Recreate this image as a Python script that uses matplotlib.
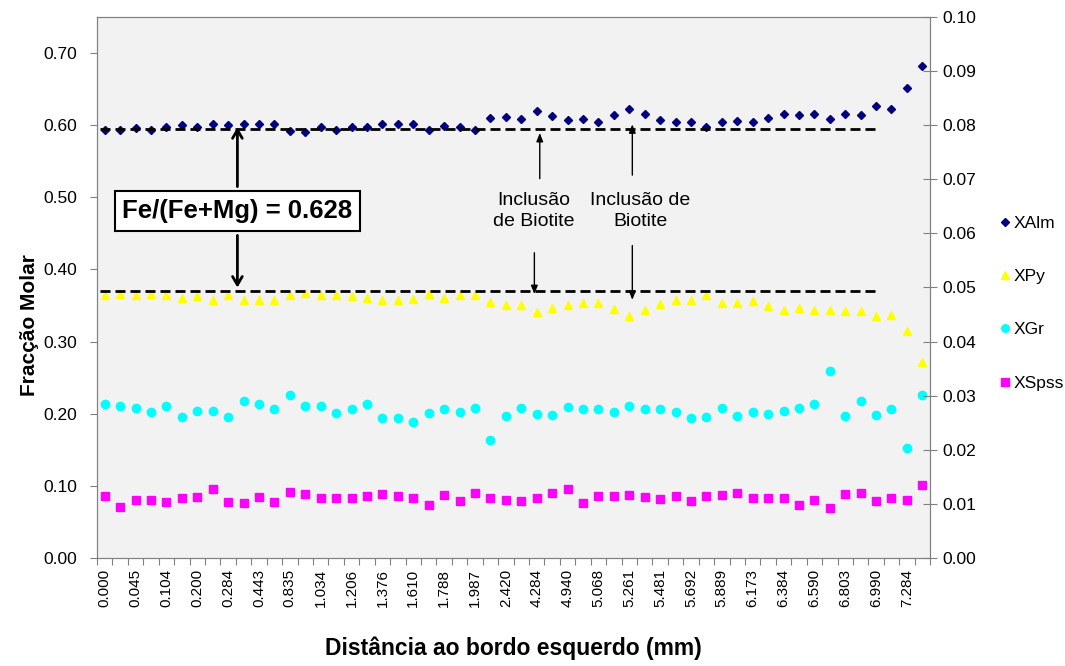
import matplotlib.pyplot as plt
import numpy as np

# distancias (mm) - so as posicoes pares tem rotulo no eixo
dist_labels = ["0.000", "0.045", "0.104", "0.200", "0.284", "0.443", "0.835",
               "1.034", "1.206", "1.376", "1.610", "1.788", "1.987", "2.420",
               "4.284", "4.940", "5.068", "5.261", "5.481", "5.692", "5.889",
               "6.173", "6.384", "6.590", "6.803", "6.990", "7.284"]

xalm = [0.594, 0.594, 0.596, 0.593, 0.597, 0.600, 0.598, 0.602, 0.600, 0.601,
        0.601, 0.602, 0.592, 0.590, 0.597, 0.594, 0.598, 0.598, 0.602, 0.601,
        0.602, 0.594, 0.599, 0.597, 0.593, 0.610, 0.611, 0.609, 0.619, 0.613,
        0.607, 0.608, 0.604, 0.614, 0.623, 0.615, 0.607, 0.604, 0.605, 0.597,
        0.604, 0.606, 0.604, 0.610, 0.615, 0.614, 0.615, 0.609, 0.616, 0.614,
        0.626, 0.623, 0.651, 0.682]
xpy = [0.365, 0.366, 0.364, 0.366, 0.364, 0.360, 0.363, 0.357, 0.364, 0.358,
       0.357, 0.358, 0.364, 0.367, 0.364, 0.365, 0.363, 0.360, 0.358, 0.358,
       0.359, 0.366, 0.360, 0.364, 0.365, 0.355, 0.351, 0.351, 0.341, 0.346,
       0.351, 0.353, 0.354, 0.345, 0.336, 0.344, 0.352, 0.357, 0.357, 0.364,
       0.354, 0.353, 0.356, 0.350, 0.344, 0.346, 0.344, 0.344, 0.343, 0.343,
       0.336, 0.337, 0.315, 0.271]
xgr = [0.213, 0.211, 0.208, 0.203, 0.211, 0.195, 0.204, 0.204, 0.195, 0.217,
       0.214, 0.206, 0.226, 0.211, 0.211, 0.201, 0.207, 0.213, 0.194, 0.194,
       0.188, 0.201, 0.207, 0.203, 0.208, 0.163, 0.197, 0.208, 0.200, 0.198,
       0.209, 0.207, 0.207, 0.202, 0.211, 0.207, 0.207, 0.202, 0.194, 0.195,
       0.208, 0.197, 0.203, 0.199, 0.204, 0.208, 0.213, 0.259, 0.197, 0.218,
       0.198, 0.206, 0.152, 0.226]
xspss = [0.086, 0.070, 0.081, 0.081, 0.078, 0.083, 0.085, 0.095, 0.078, 0.076,
         0.084, 0.077, 0.091, 0.089, 0.083, 0.083, 0.083, 0.086, 0.089, 0.086,
         0.083, 0.073, 0.087, 0.079, 0.090, 0.083, 0.080, 0.079, 0.083, 0.090,
         0.095, 0.076, 0.086, 0.086, 0.087, 0.085, 0.082, 0.086, 0.079, 0.086,
         0.087, 0.090, 0.083, 0.083, 0.083, 0.073, 0.081, 0.069, 0.088, 0.090,
         0.079, 0.083, 0.081, 0.101]

nivel_alm = 0.595   # Fe/(Fe+Mg) - linha tracejada superior
nivel_py = 0.370    # linha tracejada inferior

plt.rcParams['font.family'] = ['Liberation Sans', 'DejaVu Sans']

fig = plt.figure(figsize=(10.65, 6.66), dpi=100)
ax = fig.add_axes([0.0911, 0.1622, 0.7822, 0.8123])
ax.set_facecolor('#F2F2F2')

n = len(xalm)
x = np.arange(n)

l1, = ax.plot(x, xalm, linestyle='none', marker='D', ms=4.3, color='#000080')
l2, = ax.plot(x, xpy, linestyle='none', marker='^', ms=6.2, color='#FFFF00')
l3, = ax.plot(x, xgr, linestyle='none', marker='o', ms=6, color='#00FFFF')
l4, = ax.plot(x, xspss, linestyle='none', marker='s', ms=6, color='#FF00FF')

ax.hlines([nivel_alm, nivel_py], -0.3, 50, colors='black', lw=2,
          linestyles=[(0, (3.6, 1.8))])

ax.set_xlim(-0.5, n - 0.5)
ax.set_ylim(0, 0.75)
ax.set_yticks(np.arange(0, 0.71, 0.1))
ax.set_yticklabels([f"{v:.2f}" for v in np.arange(0, 0.71, 0.1)], fontsize=12.5)
ax.tick_params(axis='y', direction='out', length=5, color='#808080', pad=9)

# ticks entre categorias, rotulos nas posicoes pares
ax.set_xticks(np.arange(-0.5, n, 1.0))
ax.set_xticklabels([])
ax.tick_params(axis='x', which='major', direction='out', length=5, color='#808080')
ax.set_xticks(np.arange(0, n, 2)[:len(dist_labels)], minor=True)
ax.set_xticklabels(dist_labels, minor=True, rotation=90, fontsize=11)
ax.tick_params(axis='x', which='minor', length=0, pad=8)

for s in ax.spines.values():
    s.set_color('#808080')

ax.set_ylabel("Fracção Molar", fontsize=15, fontweight='bold')
ax.yaxis.set_label_coords(-0.07, 0.43)
ax.set_xlabel("Distância ao bordo esquerdo (mm)", fontsize=16.5,
              fontweight='bold', labelpad=21)

ax2 = ax.twinx()
ax2.set_ylim(0, 0.10)
ax2.set_yticks(np.arange(0, 0.101, 0.01))
ax2.set_yticklabels([f"{v:.2f}" for v in np.arange(0, 0.101, 0.01)], fontsize=12.5)
ax2.tick_params(axis='y', direction='inout', length=10, color='#808080', pad=4)
for s in ax2.spines.values():
    s.set_color('#808080')

# caixa Fe/(Fe+Mg) com setas duplas
xb = 8.6
ax.text(xb, 0.481, "Fe/(Fe+Mg) = 0.628", fontsize=18.5, fontweight='bold',
        ha='center', va='center',
        bbox=dict(boxstyle='square,pad=0.3', fc='white', ec='black', lw=1.5))
ax.annotate("", xy=(xb, 0.601), xytext=(xb, 0.511),
            arrowprops=dict(arrowstyle='->,head_width=0.35,head_length=0.6',
                            lw=2, color='black'))
ax.annotate("", xy=(xb, 0.371), xytext=(xb, 0.451),
            arrowprops=dict(arrowstyle='->,head_width=0.35,head_length=0.6',
                            lw=2, color='black'))

# inclusoes de biotite
ax.text(27.8, 0.481, "Inclusão\nde Biotite", fontsize=14, ha='center',
        va='center', linespacing=1.25)
ax.annotate("", xy=(28.2, 0.593), xytext=(28.2, 0.522),
            arrowprops=dict(arrowstyle='-|>,head_width=0.2,head_length=0.5',
                            lw=1, color='black'))
ax.annotate("", xy=(27.85, 0.362), xytext=(27.85, 0.427),
            arrowprops=dict(arrowstyle='-|>,head_width=0.2,head_length=0.5',
                            lw=1, color='black'))

ax.text(34.7, 0.481, "Inclusão de\nBiotite", fontsize=14, ha='center',
        va='center', linespacing=1.25)
ax.annotate("", xy=(34.2, 0.605), xytext=(34.2, 0.527),
            arrowprops=dict(arrowstyle='-|>,head_width=0.2,head_length=0.5',
                            lw=1, color='black'))
ax.annotate("", xy=(34.2, 0.354), xytext=(34.2, 0.437),
            arrowprops=dict(arrowstyle='-|>,head_width=0.2,head_length=0.5',
                            lw=1, color='black'))

fig.legend([l1, l2, l3, l4], ["XAlm", "XPy", "XGr", "XSpss"],
           loc='center left', bbox_to_anchor=(0.927, 0.545), frameon=False,
           fontsize=12.5, labelspacing=2.2, handlelength=0.6,
           handletextpad=0.2, markerscale=0.9, borderpad=0.2)

fig.savefig("out.png", dpi=100)
